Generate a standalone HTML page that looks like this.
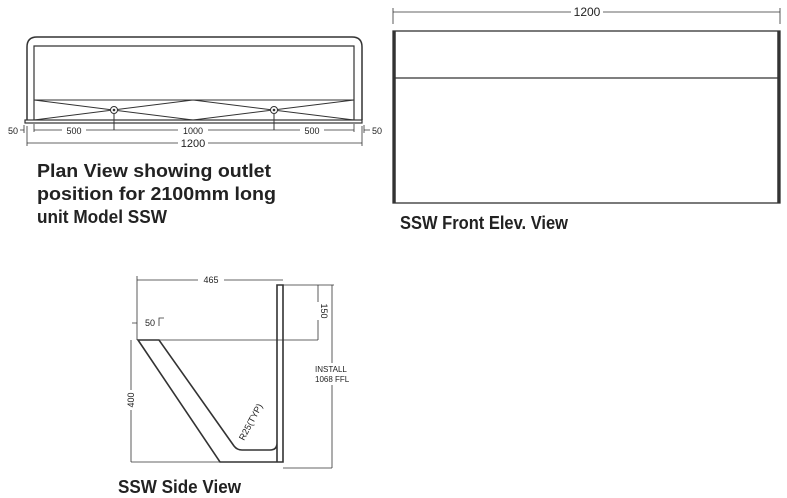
<!DOCTYPE html>
<html><head><style>
html,body{margin:0;padding:0;background:#fff;}
svg{display:block;}
.t{font-family:"Liberation Sans",sans-serif;font-weight:bold;font-size:18px;fill:#222;}
.s{font-family:"Liberation Sans",sans-serif;font-size:9px;fill:#222;}
</style></head><body>
<svg width="787" height="498" viewBox="0 0 787 498" xmlns="http://www.w3.org/2000/svg" stroke="#333" fill="none">
<!-- Plan view -->
<path d="M27 120 V47 Q27 37 37 37 H352 Q362 37 362 47 V120" stroke-width="1.5"/>
<path d="M34 120 V46 H354 V120" stroke-width="1.2"/>
<rect x="25" y="120" width="337" height="3" stroke-width="1.2"/>
<line x1="34" y1="100" x2="354" y2="100" stroke-width="1"/>
<path d="M34 100 L193 120 M34 120 L193 100 L354 120 M193 120 L354 100" stroke-width="1"/>
<circle cx="114" cy="110" r="3.5" fill="#fff" stroke-width="1"/>
<circle cx="274" cy="110" r="3.5" fill="#fff" stroke-width="1"/>
<circle cx="114" cy="110" r="0.8" fill="#333"/>
<circle cx="274" cy="110" r="0.8" fill="#333"/>
<path d="M114 114 V130 M274 114 V130" stroke-width="1"/>
<path d="M34 124 V132 M354 124 V132 M34 130 H354" stroke-width="0.8"/>
<path d="M24 125 V133 M364 125 V133 M20 130 H24 M364 130 H370" stroke-width="0.8"/>
<path d="M27 126 V146 M362 126 V146 M27 143 H362" stroke-width="0.8"/>
<g stroke="none">
<rect x="62" y="125" width="24" height="10" fill="#fff"/>
<rect x="178" y="125" width="30" height="10" fill="#fff"/>
<rect x="300" y="125" width="24" height="10" fill="#fff"/>
<rect x="178" y="138" width="30" height="10" fill="#fff"/>
<text class="s" x="74" y="134" text-anchor="middle">500</text>
<text class="s" x="193" y="134" text-anchor="middle">1000</text>
<text class="s" x="312" y="134" text-anchor="middle">500</text>
<text class="s" x="13" y="134" text-anchor="middle">50</text>
<text class="s" x="377" y="134" text-anchor="middle">50</text>
<text class="s" x="193" y="147" text-anchor="middle" style="font-size:11px">1200</text>
<text class="t" x="37" y="177" textLength="234" lengthAdjust="spacingAndGlyphs">Plan View showing outlet</text>
<text class="t" x="37" y="200" textLength="239" lengthAdjust="spacingAndGlyphs">position for 2100mm long</text>
<text class="t" x="37" y="223" textLength="130" lengthAdjust="spacingAndGlyphs">unit Model SSW</text>
</g>
<!-- Front view -->
<rect x="393" y="31" width="387" height="172" stroke-width="1.3"/>
<path d="M394.5 31 V203 M778.5 31 V203" stroke-width="2.5"/>
<line x1="393" y1="78" x2="780" y2="78" stroke-width="1.3"/>
<path d="M393 8 V24 M780 8 V24 M393 12 H780" stroke-width="0.8"/>
<g stroke="none">
<rect x="571" y="5" width="32" height="13" fill="#fff"/>
<text class="s" x="587" y="16" text-anchor="middle" style="font-size:12px">1200</text>
<text class="t" x="400" y="229" textLength="168" lengthAdjust="spacingAndGlyphs">SSW Front Elev. View</text>
</g>
<!-- Side view -->
<path d="M277 462 V285 H283 V462 H220 L138 340 H159 L234 446 Q237 450 242 450 H270 Q277 450 277 443" stroke-width="1.6"/>
<path d="M137 280 H283 M137 276 V340 M138 340 H318 M283 285 H318 M318 285 V340" stroke-width="0.8"/>
<path d="M131 340 V462 M131 462 H220 M283 468 H332 M332 285 V468 M318 285 H334" stroke-width="0.8"/>
<path d="M132 323 H137 M159 326 V318 H164" stroke-width="0.8"/>
<g stroke="none">
<rect x="198" y="274" width="26" height="12" fill="#fff"/>
<text class="s" x="211" y="283" text-anchor="middle">465</text>
<text class="s" x="150" y="326" text-anchor="middle">50</text>
<rect x="312" y="302" width="12" height="18" fill="#fff"/>
<text class="s" transform="translate(321,311) rotate(90)" text-anchor="middle">150</text>
<rect x="125" y="390" width="12" height="20" fill="#fff"/>
<text class="s" transform="translate(134,400) rotate(-90)" text-anchor="middle">400</text>
<rect x="313" y="363" width="40" height="22" fill="#fff"/>
<text class="s" x="315" y="372" style="font-size:8px">INSTALL</text>
<text class="s" x="315" y="382" style="font-size:8px">1068 FFL</text>
<text class="s" transform="translate(244,441) rotate(-62)" style="font-size:9px">R25(TYP)</text>
<text class="t" x="118" y="493" textLength="123" lengthAdjust="spacingAndGlyphs">SSW Side View</text>
</g>
</svg>
</body></html>
